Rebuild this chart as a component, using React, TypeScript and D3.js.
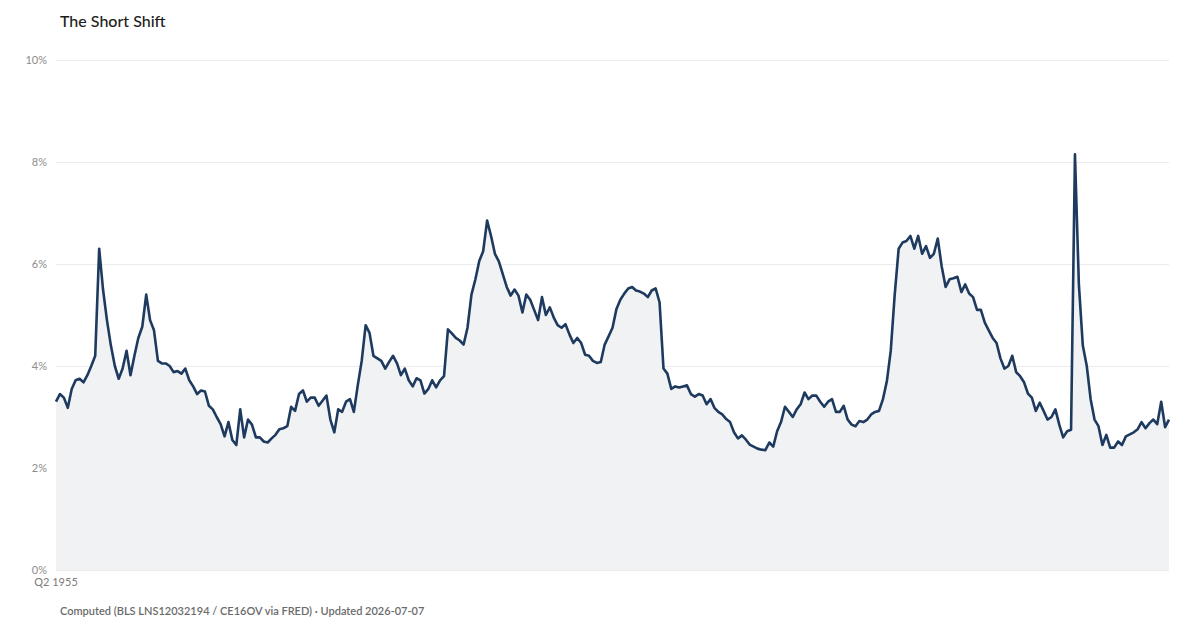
import React, { useRef, useEffect } from "react";
import { select, scaleLinear, scaleTime, area, line, axisLeft, curveLinear } from "d3";

/*
- quarterly share, first point is Q2 1955
- page is 1200 x 630
*/
const firstQuarter = { year: 1955, quarter: 2 };

const yTicks = [0, 2, 4, 6, 8, 10];
const xTickLabels = ["Q2 1955"];

// share of workers on short hours, % (one row per year)
const shortShare = [
    /* 1955 */ 3.3, 3.45, 3.38,
    /* 1956 */ 3.18, 3.55, 3.72, 3.75,
    /* 1957 */ 3.68, 3.82, 4.0, 4.2,
    /* 1958 */ 6.3, 5.5, 4.9, 4.4,
    /* 1959 */ 4.0, 3.75, 3.95, 4.3,
    /* 1960 */ 3.82, 4.2, 4.55, 4.77,
    /* 1961 */ 5.4, 4.9, 4.7, 4.1,
    /* 1962 */ 4.05, 4.05, 4.0, 3.88,
    /* 1963 */ 3.9, 3.85, 3.95, 3.72,
    /* 1964 */ 3.6, 3.45, 3.52, 3.5,
    /* 1965 */ 3.22, 3.15, 3.0, 2.86,
    /* 1966 */ 2.62, 2.9, 2.55, 2.45,
    /* 1967 */ 3.15, 2.6, 2.95, 2.85,
    /* 1968 */ 2.6, 2.6, 2.52, 2.5,
    /* 1969 */ 2.58, 2.65, 2.76, 2.78,
    /* 1970 */ 2.82, 3.2, 3.12, 3.45,
    /* 1971 */ 3.52, 3.3, 3.38, 3.38,
    /* 1972 */ 3.22, 3.32, 3.42, 2.95,
    /* 1973 */ 2.7, 3.15, 3.1, 3.3,
    /* 1974 */ 3.35, 3.1, 3.62, 4.1,
    /* 1975 */ 4.8, 4.65, 4.2, 4.15,
    /* 1976 */ 4.1, 3.95, 4.08, 4.2,
    /* 1977 */ 4.05, 3.82, 3.95, 3.72,
    /* 1978 */ 3.6, 3.76, 3.72, 3.46,
    /* 1979 */ 3.55, 3.72, 3.58, 3.72,
    /* 1980 */ 3.8, 4.72, 4.64, 4.55,
    /* 1981 */ 4.5, 4.42, 4.75, 5.4,
    /* 1982 */ 5.7, 6.06, 6.25, 6.85,
    /* 1983 */ 6.55, 6.2, 6.05, 5.8,
    /* 1984 */ 5.55, 5.38, 5.5, 5.38,
    /* 1985 */ 5.05, 5.4, 5.3, 5.1,
    /* 1986 */ 4.9, 5.35, 5.0, 5.15,
    /* 1987 */ 4.95, 4.8, 4.75, 4.82,
    /* 1988 */ 4.62, 4.45, 4.55, 4.45,
    /* 1989 */ 4.22, 4.2, 4.1, 4.06,
    /* 1990 */ 4.08, 4.42, 4.58, 4.75,
    /* 1991 */ 5.12, 5.3, 5.42, 5.52,
    /* 1992 */ 5.55, 5.48, 5.46, 5.42,
    /* 1993 */ 5.35, 5.48, 5.52, 5.25,
    /* 1994 */ 3.95, 3.85, 3.55, 3.6,
    /* 1995 */ 3.58, 3.6, 3.62, 3.45,
    /* 1996 */ 3.4, 3.45, 3.42, 3.25,
    /* 1997 */ 3.35, 3.18, 3.1, 3.05,
    /* 1998 */ 2.96, 2.9, 2.7, 2.58,
    /* 1999 */ 2.64, 2.56, 2.46, 2.42,
    /* 2000 */ 2.38, 2.36, 2.35, 2.5,
    /* 2001 */ 2.42, 2.72, 2.9, 3.2,
    /* 2002 */ 3.1, 3.0, 3.15, 3.25,
    /* 2003 */ 3.48, 3.35, 3.42, 3.42,
    /* 2004 */ 3.3, 3.2, 3.3, 3.35,
    /* 2005 */ 3.1, 3.1, 3.22, 2.95,
    /* 2006 */ 2.85, 2.82, 2.92, 2.9,
    /* 2007 */ 2.95, 3.05, 3.1, 3.12,
    /* 2008 */ 3.35, 3.7, 4.3, 5.4,
    /* 2009 */ 6.3, 6.42, 6.45, 6.55,
    /* 2010 */ 6.3, 6.55, 6.2, 6.35,
    /* 2011 */ 6.12, 6.2, 6.5, 5.95,
    /* 2012 */ 5.55, 5.7, 5.72, 5.75,
    /* 2013 */ 5.45, 5.6, 5.42, 5.35,
    /* 2014 */ 5.1, 5.1, 4.85, 4.7,
    /* 2015 */ 4.55, 4.45, 4.15, 3.95,
    /* 2016 */ 4.0, 4.2, 3.88, 3.8,
    /* 2017 */ 3.68, 3.46, 3.38, 3.12,
    /* 2018 */ 3.28, 3.12, 2.95, 3.0,
    /* 2019 */ 3.15, 2.85, 2.6, 2.72,
    /* 2020 */ 2.75, 8.15, 5.6, 4.4,
    /* 2021 */ 4.0, 3.35, 2.95, 2.82,
    /* 2022 */ 2.45, 2.65, 2.4, 2.4,
    /* 2023 */ 2.52, 2.45, 2.62, 2.66,
    /* 2024 */ 2.7, 2.76, 2.9, 2.78,
    /* 2025 */ 2.88, 2.95, 2.86, 3.3,
    /* 2026 */ 2.8, 2.95,
];

const width = 1200;
const height = 630;
const margin = { top: 60, right: 31, bottom: 60, left: 56 };

type Point = { date: Date; value: number };

// first month of each quarter
const points: Point[] = shortShare.map((value, i) => {
    const q = firstQuarter.quarter - 1 + i;
    return { date: new Date(firstQuarter.year + Math.floor(q / 4), (q % 4) * 3, 1), value };
});

const font = "Lato, 'Noto Sans', 'DejaVu Sans', sans-serif";

function ShortShiftChart() {
    const yAxisRef = useRef<SVGGElement>(null);

    const xScale = scaleTime()
        .domain([points[0].date, points[points.length - 1].date])
        .range([margin.left, width - margin.right]);

    const yScale = scaleLinear()
        .domain([0, 10])
        .range([height - margin.bottom, margin.top]);

    useEffect(() => {
        const yAxis = axisLeft(yScale)
            .tickValues(yTicks)
            .tickSize(-(width - margin.right - margin.left))
            .tickPadding(9)
            .tickFormat((d) => `${d}%`);

        const g = select(yAxisRef.current!);
        g.attr("transform", `translate(${margin.left},0)`).call(yAxis);
        g.select(".domain").remove();
        g.selectAll(".tick line").attr("stroke", "#ebebeb").attr("stroke-width", 1);
        g.selectAll(".tick text")
            .attr("fill", "#8c8c8c")
            .style("font-family", font)
            .style("font-size", "11px");
    }, []);

    const shareArea = area<Point>()
        .x((d) => xScale(d.date))
        .y0(yScale(0))
        .y1((d) => yScale(d.value))
        .curve(curveLinear);

    const shareLine = line<Point>()
        .x((d) => xScale(d.date))
        .y((d) => yScale(d.value));

    return (
        <svg
            width={width}
            height={height}
            style={{ position: "absolute", left: 0, top: 0, background: "#fff", fontFamily: font }}
        >
            <text x={60} y={27} fontSize={16} fontWeight={500} fill="#1c1c1c">
                The Short Shift
            </text>
            <g ref={yAxisRef} />
            <path d={shareArea(points) ?? ""} fill="#f1f2f4" />
            <path
                d={shareLine(points) ?? ""}
                fill="none"
                stroke="#1e3a5f"
                strokeWidth={2.6}
                strokeLinejoin="round"
            />
            {xTickLabels.map((label, i) => (
                <text
                    key={label}
                    x={xScale(points[i].date)}
                    y={height - margin.bottom + 16}
                    textAnchor="middle"
                    fontSize={11}
                    fill="#7a7a7a"
                >
                    {label}
                </text>
            ))}
            <text x={60} y={615} fontSize={11} fontWeight={600} fill="#6b6b6b">
                Computed (BLS LNS12032194 / CE16OV via FRED) · Updated 2026-07-07
            </text>
        </svg>
    );
}

export default function App() {
    return <ShortShiftChart />;
}
